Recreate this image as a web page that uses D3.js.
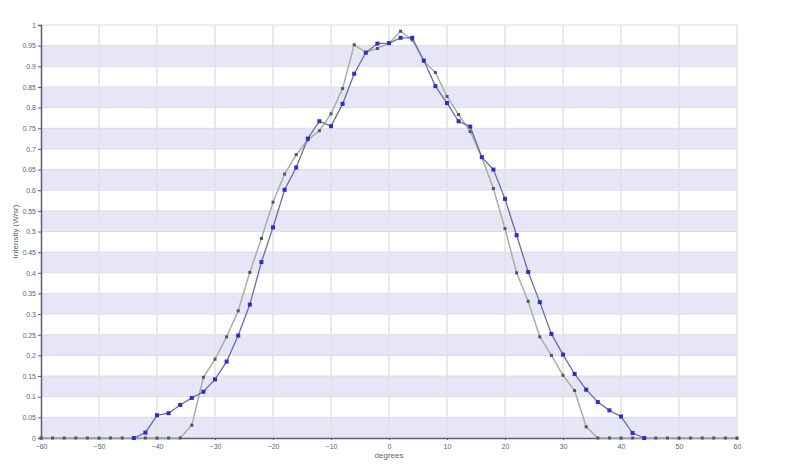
<!DOCTYPE html>
<html>
<head>
<meta charset="utf-8">
<script src="https://cdn.jsdelivr.net/npm/d3@7"></script>
<style>
body{margin:0;background:#fff;}
svg text{font-family:"Liberation Sans",Arial,sans-serif;}
</style>
</head>
<body>
<div id="chart"></div>
<script>
// angle in degrees, one sample every 2 degrees
var grayDegrees = d3.range(-60, 61, 2);
var blueDegrees = d3.range(-44, 45, 2);

var blueValues = [
  0,0.013,0.055,0.06,0.08,0.097,0.112,0.142,0.185,0.248,0.323,0.426,
  0.51,0.601,0.655,0.725,0.767,0.755,0.809,0.882,0.933,0.955,0.956,
  0.969,0.969,0.914,0.852,0.811,0.767,0.754,0.68,0.65,0.579,
  0.491,0.402,0.329,0.252,0.202,0.155,0.117,0.087,0.067,0.052,
  0.012,0];

var grayValues = [0,0,0,0,0,0,0,0,
  0,0,0,0,0,0.031,0.147,0.191,0.245,0.308,0.401,0.483,
  0.571,0.639,0.686,0.722,0.744,0.785,0.846,0.952,0.934,0.943,0.956,
  0.985,0.964,0.912,0.885,0.827,0.783,0.742,0.68,0.604,0.507,
  0.4,0.331,0.245,0.2,0.152,0.115,0.027,0,0,0,
  0,0,0,0,0,0,0,0,0,0];

var xTicks = d3.range(-60, 61, 10);
var yTicks = d3.range(0, 1.0001, 0.05).map(function(v){ return +v.toFixed(2); });

var w = 800, h = 472;
var margin = {left:41, right:63, top:25, bottom:34};

var x = d3.scaleLinear().domain([-60,60]).range([margin.left, w - margin.right]);
var y = d3.scaleLinear().domain([0,1]).range([h - margin.bottom, margin.top]);

var svg = d3.select("#chart").append("svg")
  .attr("width", w)
  .attr("height", h);

// alternating bands
svg.selectAll("rect.band")
  .data(yTicks.filter(function(v, i){ return i % 2 == 0 && v < 1; }))
  .enter()
  .append("rect")
  .attr("class","band")
  .attr("x", x(-60))
  .attr("width", x(60) - x(-60))
  .attr("y", function(d){ return y(d + 0.05); })
  .attr("height", function(d){ return y(d) - y(d + 0.05); })
  .attr("fill", "#e6e6f6");

// grid lines
svg.selectAll("line.hgrid")
  .data(yTicks)
  .enter()
  .append("line")
  .attr("x1", x(-60)).attr("x2", x(60))
  .attr("y1", function(d){ return y(d); })
  .attr("y2", function(d){ return y(d); })
  .attr("stroke", "#dcdce8")
  .attr("stroke-width", 1);

svg.selectAll("line.vgrid")
  .data(xTicks.slice(1))
  .enter()
  .append("line")
  .attr("x1", function(d){ return x(d); })
  .attr("x2", function(d){ return x(d); })
  .attr("y1", y(1)).attr("y2", y(0))
  .attr("stroke", "#e2e2e6")
  .attr("stroke-width", 1.5);

// axes
var xAxis = svg.append("g")
  .attr("transform", "translate(0," + y(0) + ")")
  .call(d3.axisBottom(x).tickValues(xTicks).tickSize(2).tickPadding(4));

var yAxis = svg.append("g")
  .attr("transform", "translate(" + x(-60) + ",0)")
  .call(d3.axisLeft(y).tickValues(yTicks).tickSize(3).tickPadding(2)
    .tickFormat(function(d){ return String(d); }));

[xAxis, yAxis].forEach(function(g){
  g.select(".domain").attr("stroke", "#5a5d80").attr("stroke-width", 1.5);
  g.selectAll(".tick line").attr("stroke", "#5a5d80");
  g.selectAll(".tick text").attr("fill", "#5c5f78").attr("font-size", 7)
    .attr("font-family", "'Liberation Sans',Arial,sans-serif");
});

// axis titles
svg.append("text")
  .attr("x", x(0))
  .attr("y", 458)
  .attr("text-anchor", "middle")
  .attr("font-size", 8)
  .attr("fill", "#5c5f78")
  .text("degrees");

svg.append("text")
  .attr("transform", "translate(18," + y(0.5) + ") rotate(-90)")
  .attr("text-anchor", "middle")
  .attr("font-size", 8)
  .attr("fill", "#5c5f78")
  .text("Intensity (W/sr)");

var blueData = blueDegrees.map(function(d, i){ return {x:d, y:blueValues[i]}; });
var grayData = grayDegrees.map(function(d, i){ return {x:d, y:grayValues[i]}; });

var line = d3.line()
  .x(function(d){ return x(d.x); })
  .y(function(d){ return y(d.y); });

// gray series
svg.append("path")
  .datum(grayData)
  .attr("d", line)
  .attr("fill", "none")
  .attr("stroke", "#a9aea6")
  .attr("stroke-width", 1.5);

svg.selectAll("rect.gpt")
  .data(grayData)
  .enter()
  .append("rect")
  .attr("class","gpt")
  .attr("x", function(d){ return x(d.x) - 1.5; })
  .attr("y", function(d){ return y(d.y) - 1.5; })
  .attr("width", 3)
  .attr("height", 3)
  .attr("fill", "#4b5a52");

// blue series
svg.append("path")
  .datum(blueData)
  .attr("d", line)
  .attr("fill", "none")
  .attr("stroke", "#6a6ca6")
  .attr("stroke-width", 1.3);

svg.selectAll("rect.bpt")
  .data(blueData)
  .enter()
  .append("rect")
  .attr("class","bpt")
  .attr("x", function(d){ return x(d.x) - 2; })
  .attr("y", function(d){ return y(d.y) - 2; })
  .attr("width", 4)
  .attr("height", 4)
  .attr("fill", "#2a2fc8");
</script>
</body>
</html>
